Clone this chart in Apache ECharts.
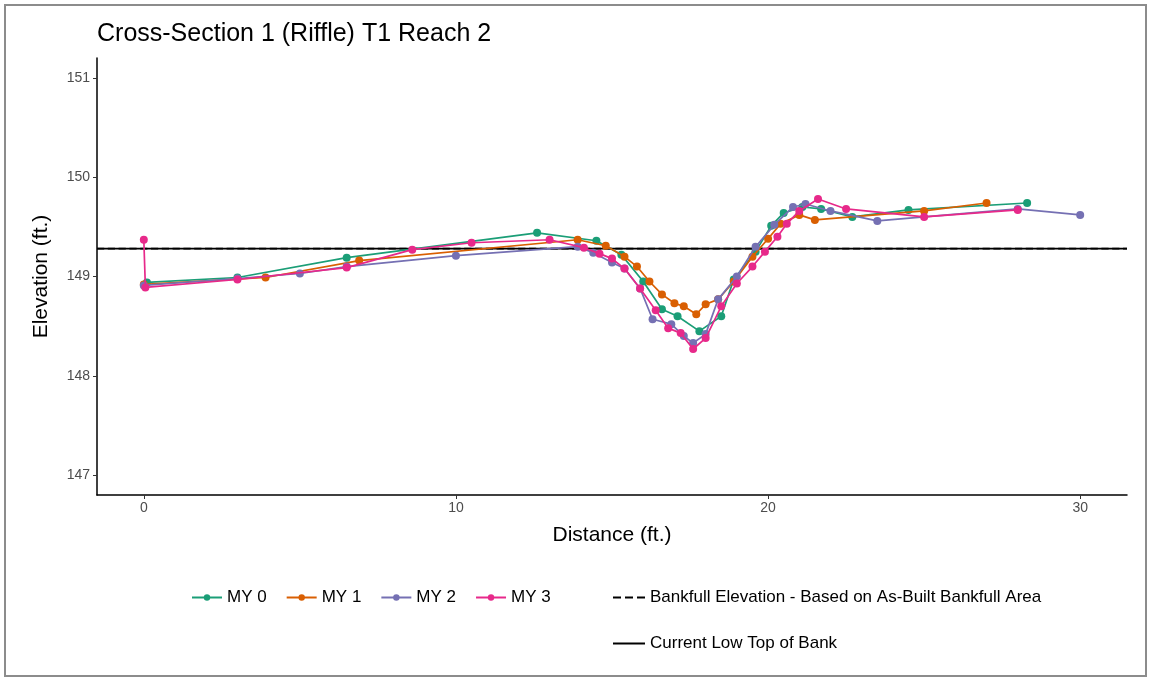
<!DOCTYPE html>
<html>
<head>
<meta charset="utf-8">
<script src="https://cdn.jsdelivr.net/npm/echarts@6/dist/echarts.min.js"></script>
<style>
  html, body { margin: 0; padding: 0; background: #fff; }
  #chart { width: 1151px; height: 681px; }
</style>
</head>
<body>
<div id="chart"></div>
<script>
// Survey points: [distance (ft), elevation (ft)]
const my0 = [
  [0.1, 148.94], [3.0, 148.99], [6.5, 149.19], [12.6, 149.44], [14.5, 149.36],
  [15.3, 149.22], [16.0, 148.95], [16.6, 148.67], [17.1, 148.60], [17.8, 148.45],
  [18.5, 148.60], [18.9, 148.97], [19.6, 149.25], [20.1, 149.51], [20.5, 149.64],
  [21.1, 149.70], [21.7, 149.68], [22.7, 149.60], [24.5, 149.67], [28.3, 149.74]
];
const my1 = [
  [0.0, 148.92], [3.9, 148.99], [6.9, 149.16], [13.9, 149.37], [14.8, 149.31],
  [15.4, 149.20], [15.8, 149.10], [16.2, 148.95], [16.6, 148.82], [17.0, 148.73],
  [17.3, 148.70], [17.7, 148.62], [18.0, 148.72], [18.4, 148.77], [18.9, 148.95],
  [19.5, 149.20], [20.0, 149.38], [20.4, 149.53], [21.0, 149.62], [21.5, 149.57],
  [25.0, 149.66], [27.0, 149.74]
];
const my2 = [
  [0.0, 148.91], [3.0, 148.98], [5.0, 149.03], [6.5, 149.10], [10.0, 149.21],
  [13.9, 149.30], [14.4, 149.24], [15.0, 149.14], [15.4, 149.08], [15.9, 148.88],
  [16.3, 148.57], [16.9, 148.52], [17.3, 148.40], [17.6, 148.33], [18.0, 148.42],
  [18.4, 148.77], [19.0, 149.00], [19.6, 149.30], [20.2, 149.52], [20.8, 149.70],
  [21.2, 149.73], [22.0, 149.66], [23.5, 149.56], [28.0, 149.68], [30.0, 149.62]
];
const my3 = [
  [0.0, 149.37], [0.05, 148.89], [3.0, 148.97], [6.5, 149.09], [8.6, 149.27],
  [10.5, 149.34], [13.0, 149.37], [14.1, 149.29], [14.6, 149.23], [15.0, 149.18],
  [15.4, 149.08], [15.9, 148.88], [16.4, 148.66], [16.8, 148.48], [17.2, 148.43],
  [17.6, 148.27], [18.0, 148.38], [18.5, 148.70], [19.0, 148.93], [19.5, 149.10],
  [19.9, 149.25], [20.3, 149.40], [20.6, 149.53], [21.0, 149.66], [21.6, 149.78],
  [22.5, 149.68], [25.0, 149.60], [28.0, 149.67]
];
const surveyNames = ['MY 0', 'MY 1', 'MY 2', 'MY 3'];
const surveyColors = ['#1B9E77', '#D95F02', '#7570B3', '#E7298A'];

// Reference elevations (ft)
const bankfullElevation = 149.28;
const lowTopOfBank = 149.28;
const bankfullName = 'Bankfull Elevation - Based on As-Built Bankfull Area';
const lowBankName = 'Current Low Top of Bank';

// Axis extents and tick values
const xRange = [-1.5, 31.5];
const yRange = [146.8, 151.2];
const xTicks = [0, 10, 20, 30];
const yTicks = [147, 148, 149, 150, 151];

const FONT = 'Liberation Sans, Arial, sans-serif';

const chart = echarts.init(document.getElementById('chart'), null, { renderer: 'canvas' });

const surveySeries = [my0, my1, my2, my3].map((d, i) => ({
  name: surveyNames[i],
  type: 'line',
  data: d,
  color: surveyColors[i],
  symbol: 'circle',
  symbolSize: 8,
  showSymbol: true,
  lineStyle: { width: 1.7, color: surveyColors[i] },
  itemStyle: { color: surveyColors[i] },
  z: 3 + i,
  animation: false
}));

const refLine = (name, value, type, z) => ({
  name: name,
  type: 'line',
  data: [[xRange[0], value], [xRange[1], value]],
  showSymbol: false,
  symbol: 'none',
  color: '#000',
  lineStyle: { color: '#000', width: 1.8, type: type },
  itemStyle: { color: '#000' },
  z: z,
  animation: false
});

const noDot = { color: 'rgba(0,0,0,0)', borderWidth: 0 };

chart.setOption({
  backgroundColor: '#fff',
  animation: false,
  title: {
    text: 'Cross-Section 1 (Riffle) T1 Reach 2',
    left: 92,
    top: 17,
    textStyle: { fontFamily: FONT, fontSize: 25, fontWeight: 'normal', color: '#000' }
  },
  grid: { left: 97, right: 24, top: 58, bottom: 186, containLabel: false },
  xAxis: {
    type: 'value',
    min: xRange[0],
    max: xRange[1],
    name: 'Distance (ft.)',
    nameLocation: 'middle',
    nameGap: 30,
    nameTextStyle: { fontFamily: FONT, fontSize: 21, color: '#000' },
    axisLine: { show: true, onZero: false, lineStyle: { color: '#000', width: 1.5 } },
    axisTick: { show: true, inside: false, length: 4, lineStyle: { color: '#333' }, customValues: xTicks },
    axisLabel: { fontFamily: FONT, fontSize: 14, color: '#4d4d4d', margin: 6, customValues: xTicks },
    splitLine: { show: false }
  },
  yAxis: {
    type: 'value',
    min: yRange[0],
    max: yRange[1],
    name: 'Elevation (ft.)',
    nameLocation: 'middle',
    nameGap: 45,
    nameRotate: 90,
    nameTextStyle: { fontFamily: FONT, fontSize: 21, color: '#000' },
    axisLine: { show: true, onZero: false, lineStyle: { color: '#000', width: 1.5 } },
    axisTick: { show: true, inside: false, length: 4, lineStyle: { color: '#333' }, customValues: yTicks },
    axisLabel: { fontFamily: FONT, fontSize: 14, color: '#4d4d4d', margin: 7, customValues: yTicks },
    splitLine: { show: false }
  },
  legend: [
    {
      data: surveyNames,
      left: 186,
      top: 584,
      orient: 'horizontal',
      itemWidth: 30,
      itemHeight: 8,
      itemGap: 19,
      textStyle: { fontFamily: FONT, fontSize: 17, color: '#000' }
    },
    {
      data: [
        { name: bankfullName, itemStyle: noDot },
        { name: lowBankName, itemStyle: noDot }
      ],
      left: 607,
      top: 584,
      orient: 'vertical',
      itemWidth: 32,
      itemHeight: 8,
      itemGap: 29,
      textStyle: { fontFamily: FONT, fontSize: 17, color: '#000' }
    }
  ],
  graphic: [
    {
      type: 'rect',
      shape: { x: 5, y: 5, width: 1141, height: 671 },
      style: { fill: 'none', stroke: '#8c8c8c', lineWidth: 2 },
      silent: true
    }
  ],
  series: [
    refLine(lowBankName, lowTopOfBank, 'solid', 1),
    refLine(bankfullName, bankfullElevation, 'dashed', 2),
    ...surveySeries
  ]
});
</script>
</body>
</html>
